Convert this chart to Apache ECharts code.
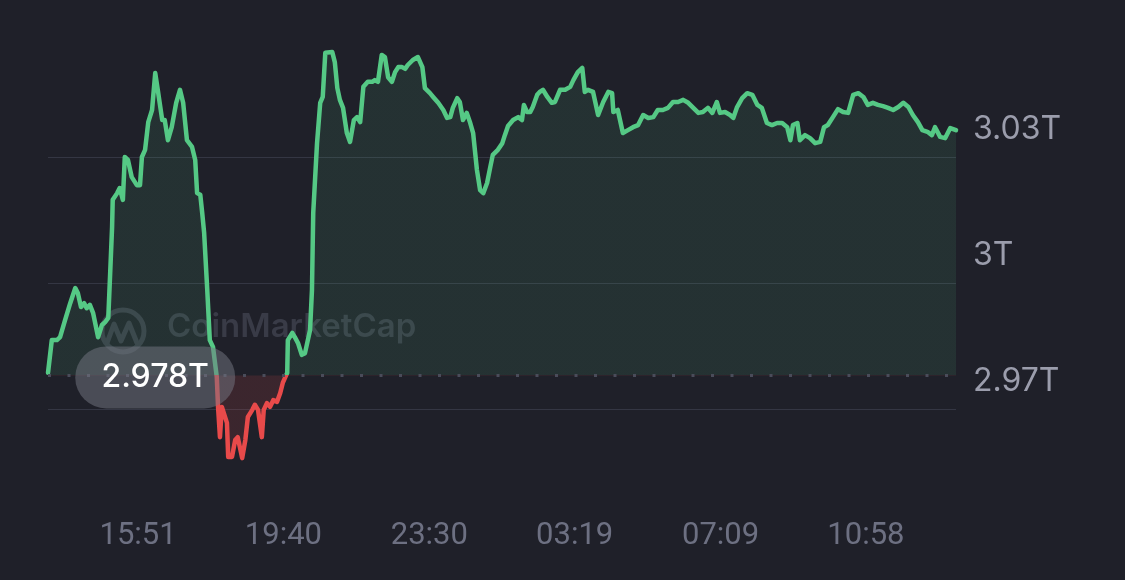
<!DOCTYPE html>
<html><head><meta charset="utf-8">
<script src="https://cdn.jsdelivr.net/npm/echarts@6/dist/echarts.min.js"></script>
<style>html,body{margin:0;padding:0;background:#1f2029}#c{width:1125px;height:580px}</style>
</head><body><div id="c"></div>
<script>
// time in minutes since 00:00 of the first day (values > 1440 are the next day)
const times = [
 809,815,823,828,836,844,852,856,861,866,
 870,875,880,888,894,899,904,907,910,911,
 918,922,927,930,935,941,949,954,957,962,
 967,973,978,982,989,993,998,1004,1011,1017,
 1022,1028,1036,1041,1044,1049,1052,1055,1060,1064,
 1069,1075,1077,1080,1083,1091,1093,1099,1104,1108,
 1115,1120,1124,1131,1135,1140,1146,1149,1154,1159,
 1164,1170,1175,1179,1186,1187,1194,1198,1203,1209,
 1214,1222,1225,1227,1233,1238,1242,1246,1257,1261,
 1265,1269,1274,1280,1285,1291,1296,1301,1306,1313,
 1320,1324,1329,1335,1340,1345,1351,1356,1361,1367,
 1372,1376,1384,1392,1399,1403,1411,1416,1424,1432,
 1438,1443,1447,1454,1458,1463,1469,1474,1479,1485,
 1490,1495,1501,1506,1510,1518,1525,1529,1534,1542,
 1550,1556,1559,1564,1569,1573,1580,1584,1589,1596,
 1603,1608,1616,1624,1632,1637,1644,1651,1655,1660,
 1668,1676,1684,1692,1698,1700,1707,1715,1723,1731,
 1739,1747,1755,1763,1770,1778,1786,1794,1802,1810,
 1818,1826,1834,1841,1849,1856,1863,1868,1876,1884,
 1889,1895,1903,1911,1919,1927,1934,1942,1950,1958,
 1966,1974,1979,1983,1990,1994,2002,2010,2018,2026,
 2032,2038,2046,2054,2062,2070,2078,2086,2094,2101,
 2109,2117,2125,2133,2141,2149,2157,2165,2172,2180,
 2187,2195,2202,2207,2215,2223,2231,2240
];
// market cap in billions USD
const marketCap = [
 2978.6,2986.4,2986.4,2987.1,2991.2,2995.2,2998.8,2997.6,2994.3,2995.2,
 2994.0,2994.8,2992.9,2987.1,2990.0,2990.7,2991.7,3002.4,3013.3,3019.8,
 3021.4,3022.6,3019.8,3030.0,3029.3,3025.2,3023.3,3023.3,3030.0,3031.7,
 3038.3,3041.2,3050.0,3046.0,3038.8,3038.8,3034.0,3037.1,3042.9,3046.0,
 3042.9,3034.0,3032.4,3029.3,3021.4,3021.0,3016.7,3012.1,2998.3,2986.4,
 2984.8,2977.6,2970.5,2963.3,2970.5,2966.7,2958.6,2958.6,2962.6,2963.3,
 2958.3,2962.6,2968.1,2969.8,2971.0,2969.8,2963.3,2969.8,2971.4,2970.5,
 2972.1,2971.7,2973.8,2976.2,2978.6,2986.4,2988.1,2987.1,2985.7,2982.9,
 2983.3,2988.8,2998.3,3016.7,3033.3,3042.9,3044.3,3054.8,3055.0,3052.6,
 3046.4,3043.6,3041.7,3035.7,3033.6,3038.8,3039.5,3038.3,3046.7,3047.9,
 3047.9,3048.3,3047.9,3054.3,3053.8,3049.0,3047.9,3050.2,3051.4,3051.4,
 3051.0,3051.9,3053.1,3053.8,3051.4,3046.4,3045.2,3044.3,3042.9,3041.2,
 3039.3,3039.5,3041.7,3044.0,3043.1,3038.8,3040.5,3038.3,3035.7,3026.9,
 3022.1,3021.4,3023.8,3027.6,3030.5,3031.7,3033.3,3035.2,3037.4,3038.8,
 3039.5,3038.8,3042.4,3040.7,3040.7,3041.9,3044.8,3045.5,3046.0,3044.3,
 3042.9,3043.1,3046.0,3046.0,3046.7,3048.3,3050.2,3051.2,3045.5,3046.0,
 3045.5,3040.0,3043.1,3045.5,3045.2,3040.7,3041.2,3035.7,3036.4,3037.1,
 3037.6,3040.0,3039.3,3039.5,3041.2,3041.2,3041.7,3043.1,3043.1,3043.6,
 3042.9,3041.7,3040.5,3040.7,3041.7,3040.5,3043.1,3040.5,3040.7,3040.0,
 3039.3,3041.9,3044.0,3045.2,3044.8,3042.4,3041.7,3038.1,3037.6,3038.1,
 3038.1,3037.1,3034.0,3037.6,3038.1,3034.0,3035.2,3034.5,3033.3,3033.6,
 3037.1,3037.6,3039.5,3041.4,3040.7,3040.5,3044.8,3045.2,3044.3,3042.4,
 3042.9,3042.4,3042.1,3041.7,3041.2,3041.9,3042.9,3041.9,3040.0,3038.3,
 3036.4,3036.0,3035.2,3037.1,3034.8,3034.5,3036.9,3036.4
];
const baseline = 2978;            // opening value, billions
const xTickLabels = ['15:51','19:40','23:30','03:19','07:09','10:58'];
const yMin = 2940, yMax = 3060, yStep = 30;
const pillTime = 978;             // where the opening-value badge sits

const startT = times[0], endT = times[times.length - 1];
function toMinutes(s) {
  const [h, m] = s.split(':').map(Number);
  let t = h * 60 + m;
  while (t < startT) t += 1440;
  return t;
}
const xTickValues = xTickLabels.map(toMinutes);
function fmtTime(v) {
  const t = ((Math.round(v) % 1440) + 1440) % 1440;
  const h = Math.floor(t / 60), m = t % 60;
  return String(h).padStart(2, '0') + ':' + String(m).padStart(2, '0');
}
function fmtCap(v) { return parseFloat((v / 1000).toFixed(3)) + 'T'; }

const data = times.map((t, i) => [t, marketCap[i]]);
const GREEN = '#55c985', RED = '#e84a4a';
const GREEN_A = 'rgba(85,201,133,0.15)', RED_A = 'rgba(232,74,74,0.2)';

const chart = echarts.init(document.getElementById('c'));
chart.setOption({
  backgroundColor: '#1f2029',
  animation: false,
  grid: { left: 48, right: 169, top: 31, bottom: 45, containLabel: false },
  xAxis: {
    type: 'value', min: startT, max: endT,
    axisLine: { show: false }, axisTick: { show: false }, splitLine: { show: false },
    axisLabel: {
      customValues: xTickValues,
      formatter: fmtTime,
      color: '#6d7082', fontSize: 31, fontFamily: 'Roboto',
      verticalAlign: 'middle', margin: 1
    }
  },
  yAxis: {
    type: 'value', position: 'right', min: yMin, max: yMax, interval: yStep,
    axisLine: { show: false }, axisTick: { show: false },
    splitLine: { show: true, showMinLine: false, showMaxLine: false,
      lineStyle: { color: '#343643', width: 1 } },
    axisLabel: {
      showMinLabel: false, showMaxLabel: false,
      formatter: fmtCap, color: '#9b9dac', fontSize: 32, fontFamily: 'Inter',
      align: 'left', margin: 17, verticalAlign: 'bottom', lineHeight: 55
    }
  },
  graphic: [
    { type: 'circle', z: 1, shape: { cx: 123, cy: 331, r: 21 },
      style: { fill: 'none', stroke: '#393b47', lineWidth: 5 } },
    { type: 'polyline', z: 1, shape: { points: [[107,343],[114,324],[121,341],[129,323],[137,343]] },
      style: { fill: 'none', stroke: '#393b47', lineWidth: 5, lineJoin: 'round', lineCap: 'round' } },
    { type: 'text', z: 1, left: 167, top: 311,
      style: { text: 'CoinMarketCap', fill: '#393b47', font: '600 33px Inter' } }
  ],
  series: [{
    type: 'line', data: data, showSymbol: false, symbol: 'none',
    lineStyle: { width: 4.5, color: GREEN, join: 'round', cap: 'round' },
    areaStyle: { origin: baseline, color: GREEN_A },
    z: 3,
    markLine: {
      silent: true, symbol: 'none', label: { show: false },
      lineStyle: { type: [3, 16.5], width: 3, color: '#4a4c5a', cap: 'butt' },
      data: [ { yAxis: baseline } ]
    },
    markPoint: {
      silent: true,
      symbol: 'path://M31,0 L129,0 A31,31 0 0 1 129,62 L31,62 A31,31 0 0 1 31,0 Z',
      symbolSize: [160, 62], symbolKeepAspect: false, symbolOffset: [0, 2],
      itemStyle: { color: 'rgba(118,120,132,0.5)' },
      label: { show: true, formatter: fmtCap(baseline), color: '#ffffff',
        fontSize: 32, fontFamily: 'Inter', fontWeight: 500 },
      data: [ { coord: [pillTime, baseline] } ]
    }
  }]
});

// split colour at the baseline: green above, red below
const yPix = chart.convertToPixel({ yAxisIndex: 0 }, baseline);
const H = chart.getHeight();
const f = yPix / H;
function split(a, b) {
  return new echarts.graphic.LinearGradient(0, 0, 0, H, [
    { offset: 0, color: a }, { offset: f, color: a },
    { offset: f, color: b }, { offset: 1, color: b }
  ], true);
}
chart.setOption({ series: [{ lineStyle: { color: split(GREEN, RED) },
  areaStyle: { color: split(GREEN_A, RED_A) } }] });
</script>
</body></html>
